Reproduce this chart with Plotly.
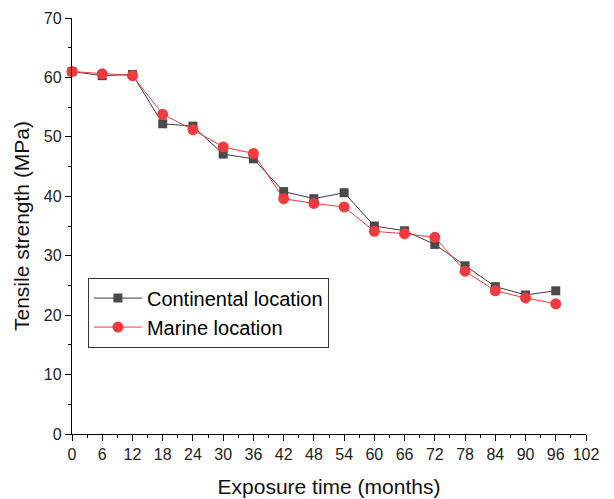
import plotly.graph_objects as go

# Exposure time (months)
months = [0, 6, 12, 18, 24, 30, 36, 42, 48, 54, 60, 66, 72, 78, 84, 90, 96]

# Tensile strength (MPa)
continental = [61.0, 60.3, 60.5, 52.2, 51.8, 47.1, 46.3, 40.8, 39.6, 40.6,
               35.0, 34.2, 31.9, 28.3, 24.8, 23.4, 24.1]
marine = [61.0, 60.6, 60.3, 53.8, 51.2, 48.3, 47.2, 39.6, 38.8, 38.2,
          34.1, 33.7, 33.1, 27.4, 24.1, 22.9, 21.9]

x_ticks = list(range(0, 103, 6))
y_ticks = list(range(0, 71, 10))

fig = go.Figure()
fig.add_trace(go.Scatter(
    x=months, y=continental, name="Continental location",
    mode="lines+markers", cliponaxis=False,
    line=dict(color="#3c3c3c", width=1),
    marker=dict(symbol="square", size=9, color="#4a4a4a"),
))
fig.add_trace(go.Scatter(
    x=months, y=marine, name="Marine location",
    mode="lines+markers", cliponaxis=False,
    line=dict(color="#ef3b3f", width=1),
    marker=dict(symbol="circle", size=11, color="#ef3b3f"),
))

font_family = "Liberation Sans, Arial, sans-serif"
axis_font = dict(family=font_family, size=16, color="#222222")
title_font = dict(family=font_family, size=21, color="#111111")

fig.update_xaxes(
    range=[0, 102], tickvals=x_ticks, ticktext=[str(v) for v in x_ticks],
    showline=True, linecolor="black", linewidth=1.3,
    ticks="outside", ticklen=6, tickwidth=1.3, tickcolor="black",
    minor=dict(dtick=3, tick0=0, ticks="outside", ticklen=3, tickwidth=1, tickcolor="black"),
    showgrid=False, zeroline=False, tickfont=axis_font, automargin=False,
    title=dict(text="Exposure time (months)", font=title_font, standoff=16),
)
fig.update_yaxes(
    range=[0, 70], tickvals=y_ticks, ticktext=[str(v) for v in y_ticks],
    showline=True, linecolor="black", linewidth=1.3,
    ticks="outside", ticklen=6, tickwidth=1.3, tickcolor="black",
    minor=dict(dtick=5, tick0=0, ticks="outside", ticklen=3, tickwidth=1, tickcolor="black"),
    showgrid=False, zeroline=False, tickfont=axis_font, automargin=False,
    title=dict(text="Tensile strength (MPa)", font=title_font, standoff=8),
)

fig.update_layout(
    width=614, height=499,
    margin=dict(l=72, r=28, t=18, b=65),
    plot_bgcolor="white", paper_bgcolor="white",
    showlegend=True,
    legend=dict(
        x=0.031, y=0.376, xanchor="left", yanchor="top",
        bordercolor="#333333", borderwidth=1, bgcolor="white",
        font=dict(family=font_family, size=20, color="black"),
        itemwidth=48, tracegroupgap=0,
    ),
)

fig.write_html("out.html")
